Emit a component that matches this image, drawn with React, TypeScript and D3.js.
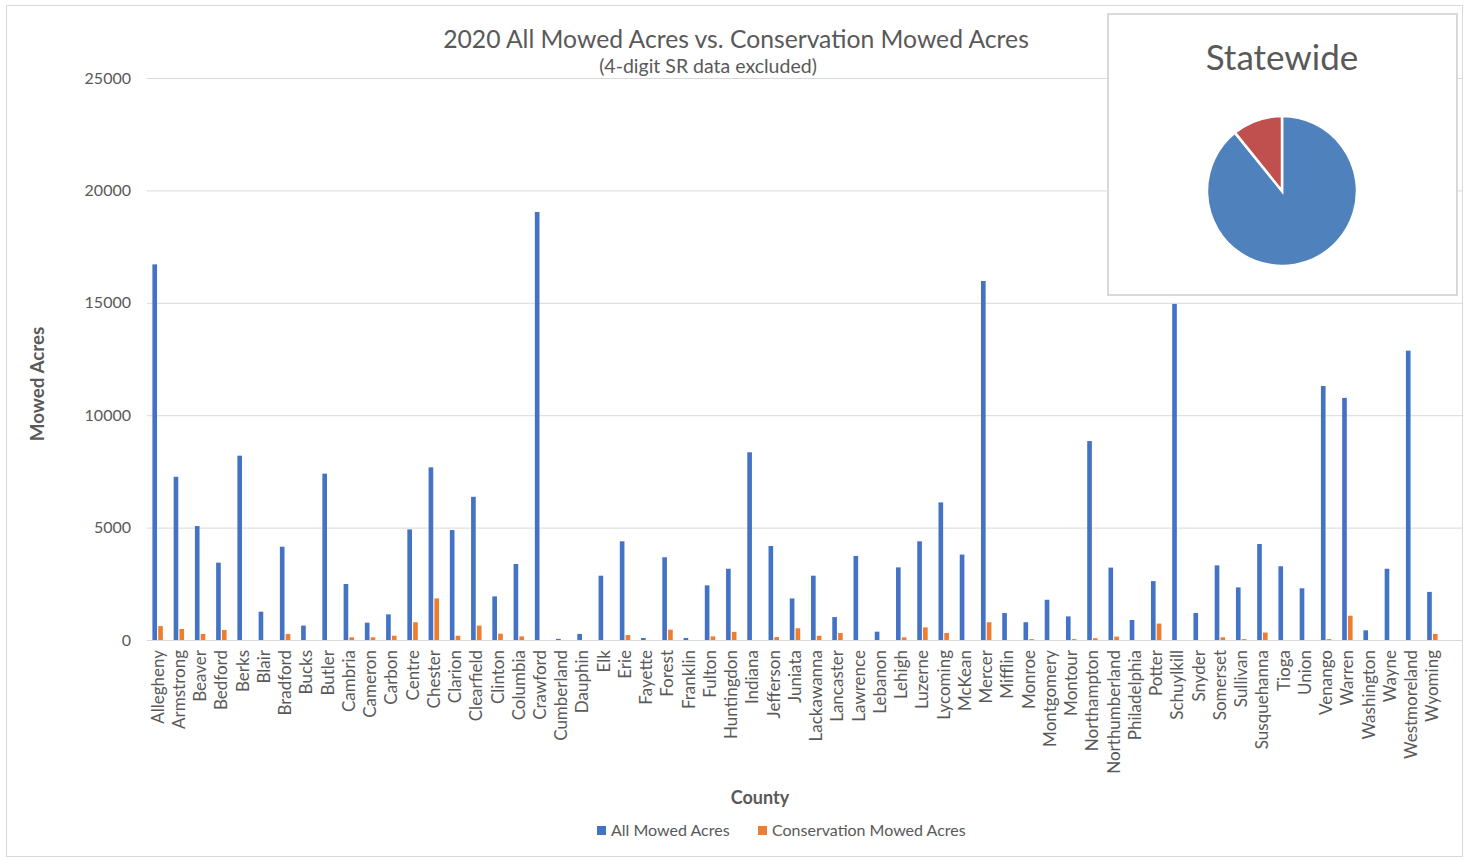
import { useEffect, useRef } from 'react';
import * as d3 from 'd3';

const counties = [
  'Allegheny', 'Armstrong', 'Beaver', 'Bedford', 'Berks', 'Blair', 'Bradford', 'Bucks', 'Butler', 'Cambria',
  'Cameron', 'Carbon', 'Centre', 'Chester', 'Clarion', 'Clearfield', 'Clinton', 'Columbia', 'Crawford', 'Cumberland',
  'Dauphin', 'Elk', 'Erie', 'Fayette', 'Forest', 'Franklin', 'Fulton', 'Huntingdon', 'Indiana', 'Jefferson',
  'Juniata', 'Lackawanna', 'Lancaster', 'Lawrence', 'Lebanon', 'Lehigh', 'Luzerne', 'Lycoming', 'McKean', 'Mercer',
  'Mifflin', 'Monroe', 'Montgomery', 'Montour', 'Northampton', 'Northumberland', 'Philadelphia', 'Potter', 'Schuylkill', 'Snyder',
  'Somerset', 'Sullivan', 'Susquehanna', 'Tioga', 'Union', 'Venango', 'Warren', 'Washington', 'Wayne', 'Westmoreland',
  'Wyoming',
];

const allMowed = [
  16710, 7260, 5070, 3440, 8200, 1260, 4150, 640, 7400, 2490,
  770, 1140, 4920, 7680, 4890, 6370, 1940, 3380, 19040, 50,
  270, 2860, 4390, 90, 3680, 90, 2430, 3170, 8350, 4180,
  1850, 2860, 1020, 3740, 370, 3230, 4390, 6120, 3800, 15970,
  1200, 790, 1790, 1050, 8850, 3220, 890, 2620, 14950, 1200,
  3320, 2340, 4270, 3280, 2300, 11300, 10770, 430, 3170, 12870,
  2140,
];

const conservationMowed = [
  620, 490, 270, 445, 0, 0, 270, 0, 0, 120,
  120, 190, 790, 1850, 190, 640, 280, 160, 0, 0,
  0, 0, 220, 0, 460, 0, 160, 360, 0, 130,
  520, 190, 310, 0, 0, 120, 560, 310, 0, 790,
  0, 40, 0, 40, 80, 150, 0, 730, 0, 0,
  120, 40, 330, 0, 0, 40, 1080, 0, 0, 0,
  270,
];

const seriesNames = ['All Mowed Acres', 'Conservation Mowed Acres'];
const seriesColors = ['#4472C4', '#ED7D31'];
const yTicks = [0, 5000, 10000, 15000, 20000, 25000];

// statewide share (percent)
const pieNames = ['Other Mowed Acres', 'Conservation Mowed Acres'];
const pieValues = [89.2, 10.8];
const pieColors = ['#4F81BD', '#C0504D'];

const FONT = 'Lato, "Open Sans", sans-serif';
const TEXT = '#595959';
const GRID = '#d9d9d9';

const App = () => {
  const svgRef = useRef<SVGSVGElement>(null);

  useEffect(() => {
    if (!svgRef.current) return;
    const svg = d3.select(svgRef.current);
    svg.selectAll('*').remove();

    const width = 1468;
    const height = 860;
    const plot = { left: 147, right: 1443, gridRight: 1463, top: 78, bottom: 640 };

    svg.append('rect')
      .attr('x', 0).attr('y', 0).attr('width', width).attr('height', height)
      .attr('fill', '#fff');
    svg.append('rect')
      .attr('x', 6.5).attr('y', 5.5).attr('width', 1456).attr('height', 851)
      .attr('fill', 'none').attr('stroke', GRID);

    const data = counties.map((c, i) => ({ county: c, values: [allMowed[i], conservationMowed[i]] }));

    const x = d3.scaleBand().domain(counties).range([plot.left, plot.right]).padding(0);
    const x1 = d3.scaleBand().domain(seriesNames).range([0, x.bandwidth()])
      .paddingInner(0.2).paddingOuter(0.93);
    const y = d3.scaleLinear().domain([0, 25000]).range([plot.bottom, plot.top]);

    // gridlines + y tick labels
    const yAxis = svg.append('g')
      .attr('transform', `translate(${plot.left},0)`)
      .call(d3.axisLeft(y).tickValues(yTicks).tickFormat(d => `${d}`)
        .tickSize(-(plot.gridRight - plot.left)).tickPadding(16));
    yAxis.select('.domain').remove();
    yAxis.selectAll('line').attr('stroke', GRID).attr('stroke-width', 1);
    yAxis.selectAll('text')
      .attr('fill', TEXT).style('font-family', FONT).style('font-size', '16px');

    // bars
    const groups = svg.append('g').selectAll('g')
      .data(data)
      .enter()
      .append('g')
      .attr('transform', d => `translate(${x(d.county)},0)`);
    groups.selectAll('rect')
      .data(d => d.values.map((v, k) => ({ key: seriesNames[k], value: v, color: seriesColors[k] })))
      .enter()
      .append('rect')
      .attr('x', d => x1(d.key) || 0)
      .attr('y', d => y(d.value))
      .attr('width', x1.bandwidth())
      .attr('height', d => plot.bottom - y(d.value))
      .attr('fill', d => d.color);

    // category labels
    svg.append('g').selectAll('text')
      .data(counties)
      .enter()
      .append('text')
      .attr('transform', d => `translate(${(x(d) || 0) + x.bandwidth() / 2},${plot.bottom + 10}) rotate(-90)`)
      .attr('text-anchor', 'end')
      .attr('dy', '0.35em')
      .attr('fill', TEXT)
      .style('font-family', FONT)
      .style('font-size', '17px')
      .text(d => d);

    // titles
    svg.append('text')
      .attr('x', 736).attr('y', 48)
      .attr('text-anchor', 'middle')
      .attr('fill', TEXT)
      .style('font-family', FONT).style('font-size', '24.7px')
      .text('2020 All Mowed Acres vs. Conservation Mowed Acres');
    svg.append('text')
      .attr('x', 708).attr('y', 73)
      .attr('text-anchor', 'middle')
      .attr('fill', TEXT)
      .style('font-family', FONT).style('font-size', '19.5px')
      .text('(4-digit SR data excluded)');
    svg.append('text')
      .attr('transform', 'translate(44,384) rotate(-90)')
      .attr('text-anchor', 'middle')
      .attr('fill', TEXT)
      .style('font-family', FONT).style('font-size', '18.8px').style('font-weight', 'bold')
      .text('Mowed Acres');
    svg.append('text')
      .attr('x', 760).attr('y', 804)
      .attr('text-anchor', 'middle')
      .attr('fill', TEXT)
      .style('font-family', FONT).style('font-size', '18px').style('font-weight', 'bold')
      .text('County');

    // legend
    const legendItems = [
      { name: seriesNames[0], color: seriesColors[0], x: 597 },
      { name: seriesNames[1], color: seriesColors[1], x: 758 },
    ];
    const legend = svg.append('g').selectAll('g')
      .data(legendItems)
      .enter()
      .append('g')
      .attr('transform', d => `translate(${d.x},826)`);
    legend.append('rect')
      .attr('width', 9).attr('height', 9)
      .attr('fill', d => d.color);
    legend.append('text')
      .attr('x', 14).attr('y', 10)
      .attr('fill', TEXT)
      .style('font-family', FONT).style('font-size', '16px')
      .text(d => d.name);

    // statewide pie inset
    const inset = svg.append('g');
    inset.append('rect')
      .attr('x', 1108).attr('y', 14).attr('width', 349).attr('height', 281)
      .attr('fill', '#fff').attr('stroke', GRID).attr('stroke-width', 2);
    inset.append('text')
      .attr('x', 1282).attr('y', 70)
      .attr('text-anchor', 'middle')
      .attr('fill', TEXT)
      .style('font-family', FONT).style('font-size', '35px')
      .text('Statewide');

    const pie = d3.pie<number>().sort(null);
    const arc = d3.arc<d3.PieArcDatum<number>>().innerRadius(0).outerRadius(75);
    inset.append('g')
      .attr('transform', 'translate(1282,191)')
      .selectAll('path')
      .data(pie(pieValues))
      .enter()
      .append('path')
      .attr('d', arc)
      .attr('fill', (_, i) => pieColors[i])
      .attr('stroke', '#fff')
      .attr('stroke-width', 2.5)
      .append('title')
      .text((d, i) => `${pieNames[i]}: ${d.data}%`);
  }, []);

  return (
    <div style={{ position: 'absolute', left: 0, top: 0 }}>
      <svg ref={svgRef} width={1468} height={860} style={{ display: 'block' }} />
    </div>
  );
};

export default App;
